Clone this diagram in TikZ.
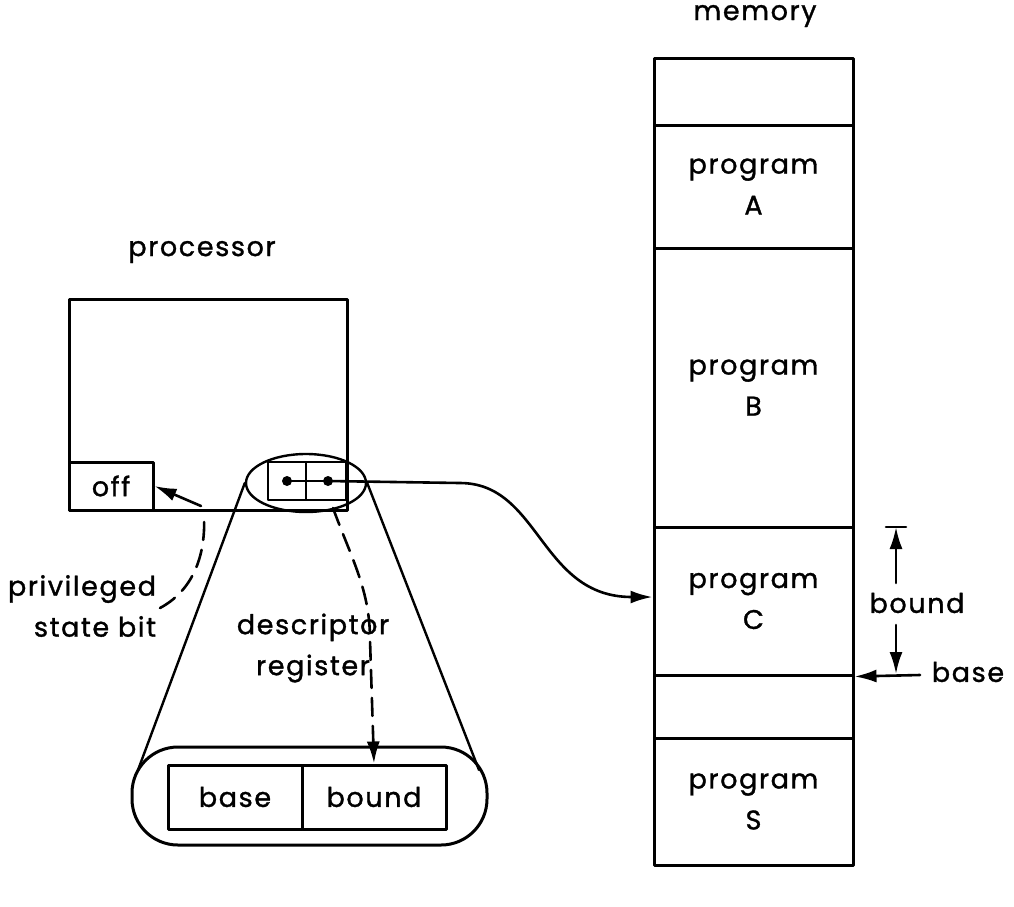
\documentclass[tikz,border=0pt]{standalone}
\usepackage{fontspec}
\setsansfont[LetterSpace=6,FakeBold=1.2]{Poppins}
\usetikzlibrary{shapes.geometric,arrows.meta}

\begin{document}
\begin{tikzpicture}[x=1pt, y=-1pt, line width=2.6pt, line cap=round, line join=round,
  lbl/.style={inner sep=0pt, align=center, font=\fontsize{27}{41}\selectfont\sffamily},
  cell/.style={draw, line width=3pt, inner sep=0pt, align=center,
    font=\fontsize{27}{41}\selectfont\sffamily},
  arr/.style={-{Latex[length=22pt,width=13pt]}},
  dsh/.style={dashed, dash pattern=on 18pt off 10pt}]

  %% ════ memory column ════
  \node[lbl] (memlbl) at (755,16) {memory};
  \node[cell, minimum width=199pt, minimum height=67pt]  (memtop) at (753.5,91.5) {};
  \node[cell, minimum width=199pt, minimum height=123pt] (progA) at (753.5,186.5) {program\\A};
  \node[cell, minimum width=199pt, minimum height=279pt] (progB) at (753.5,387.5) {program\\B};
  \node[cell, minimum width=199pt, minimum height=148pt] (progC) at (753.5,601) {program\\C};
  \node[cell, minimum width=199pt, minimum height=63pt]  (memgap) at (753.5,706.5) {};
  \node[cell, minimum width=199pt, minimum height=127pt] (progS) at (753.5,801.5) {program\\S};

  %% ════ processor ════
  \node[lbl] (proclbl) at (202,252) {processor};
  \node[cell, minimum width=278pt, minimum height=211pt] (proc) at (208,404.5) {};
  \node[cell, minimum width=84pt, minimum height=48pt] (off) at (111,486) {off};

  %% descriptor register in the processor
  \node[cell, line width=2.4pt, minimum width=38pt, minimum height=38pt] (regL) at (287,481) {};
  \node[cell, line width=2.4pt, minimum width=40pt, minimum height=38pt] (regR) at (326,481) {};
  \fill (287,481) circle (5) coordinate (dotL);
  \fill (328,481) circle (5) coordinate (dotR);
  \draw[line width=2.4pt] (dotL) -- (dotR);
  \node[draw, ellipse, line width=2.4pt, minimum width=120pt, minimum height=58pt] (lens) at (306,483) {};

  %% ════ enlarged register ════
  \node[draw, line width=3pt, minimum width=355pt, minimum height=98pt, rounded corners=46pt] (stad) at (309.5,796) {};
  \node[cell, minimum width=134pt, minimum height=64pt] (regbase) at (235,797) {base};
  \node[cell, minimum width=144pt, minimum height=64pt] (regbound) at (374,797) {bound};
  \coordinate (tanL) at (138,770);
  \coordinate (tanR) at (479,770);
  \draw[line width=2.4pt] (lens.west) -- (tanL);
  \draw[line width=2.4pt] (lens.east) -- (tanR);

  %% ════ labels ════
  \node[lbl, align=right] (privlbl) at (82,606) {privileged\\state bit};
  \node[lbl] (desclbl) at (313,648) {descriptor\\register};
  \node[lbl] (boundlbl) at (917,603) {bound};
  \node[lbl] (baselbl) at (968,672) {base};

  %% ════ connectors ════
  \draw[dsh] (160,608) .. controls (190,592) and (206,560) .. (204,516);
  \draw[arr] (201,506) -- (off.east);
  \draw[arr, dsh] (333,508) .. controls (352,560) and (370,590) .. (370,640) -- (regbound.north);
  \draw[arr] (dotR) -- (460,483) .. controls (540,483) and (540,597) .. (progC.west |- 0,597);

  %% bound / base marks
  \draw (886,527) -- (906,527);
  \draw[arr] (896,583) -- (896,527);
  \draw[arr] (896,625) -- (896,674);
  \draw[arr] (920,675) -- (progC.south east);

  \pgfresetboundingbox
  \path[use as bounding box] (0,0) rectangle (1014,906);
\end{tikzpicture}
\end{document}
